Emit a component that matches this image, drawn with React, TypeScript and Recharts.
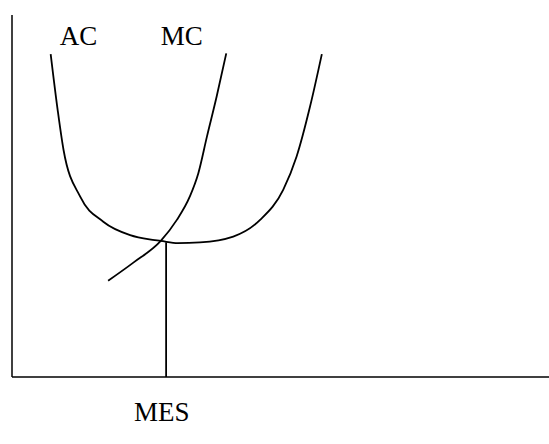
import { LineChart, Line, XAxis, YAxis, ReferenceDot, ReferenceLine } from "recharts";

// output (q) and cost (c), both on a 0-100 scale
const acQ = [7.2, 8.5, 9.6, 12.7, 17.0, 22.0, 25.6, 27.7, 30.9, 35.0, 41.2, 46.2, 50.5, 53.0, 55.5, 57.7];
const acC = [89.2, 73.8, 62.7, 49.8, 42.9, 39.2, 38.0, 37.6, 37.0, 37.2, 38.8, 43.4, 51.7, 60.9, 74.7, 89.2];

const mcQ = [17.9, 22.6, 27.7, 30.7, 33.1, 34.7, 36.3, 38.1, 39.9];
const mcC = [26.6, 31.6, 37.6, 43.4, 49.8, 56.3, 66.4, 77.4, 89.4];

const mesQ = 28.7;
const mesC = 37.2;

const acData = acQ.map((q, i) => ({ q, c: acC[i] }));
const mcData = mcQ.map((q, i) => ({ q, c: mcC[i] }));
const mesData = [{ q: mesQ, c: 0 }, { q: mesQ, c: mesC }];

const font = { fontFamily: "'Liberation Serif', 'Times New Roman', serif", fontSize: 27, fill: "#000" };

export default function App() {
  return (
    <div style={{ position: "absolute", left: 0, top: 0, background: "#fff" }}>
      <LineChart width={549} height={444} margin={{ top: 15, right: 0, bottom: 67, left: 12 }}>
        <XAxis dataKey="q" type="number" domain={[0, 100]} allowDataOverflow hide />
        <YAxis dataKey="c" type="number" domain={[0, 100]} allowDataOverflow hide />
        <ReferenceLine x={0} stroke="#000" strokeWidth={1.5} />
        <ReferenceLine y={0} stroke="#000" strokeWidth={1.5} />
        <Line data={acData} dataKey="c" type="monotone" stroke="#000" strokeWidth={1.8} dot={false} isAnimationActive={false} />
        <Line data={mcData} dataKey="c" type="monotone" stroke="#000" strokeWidth={1.8} dot={false} isAnimationActive={false} />
        <Line data={mesData} dataKey="c" type="linear" stroke="#000" strokeWidth={1.8} dot={false} isAnimationActive={false} />
        <ReferenceDot x={12.4} y={94.4} r={0} ifOverflow="visible" label={{ value: "AC", position: "center", ...font }} />
        <ReferenceDot x={31.6} y={94.4} r={0} ifOverflow="visible" label={{ value: "MC", position: "center", ...font }} />
        <ReferenceDot x={27.9} y={-9.5} r={0} ifOverflow="visible" label={{ value: "MES", position: "center", ...font }} />
      </LineChart>
    </div>
  );
}
